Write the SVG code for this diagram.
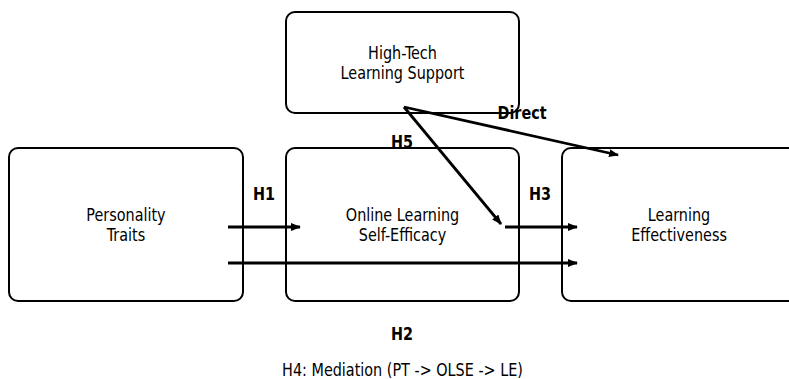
<svg xmlns="http://www.w3.org/2000/svg" width="789" height="379" viewBox="0 0 789 379">
<defs>
<marker id="ah" viewBox="0 0 10 8" refX="9" refY="4" markerWidth="10" markerHeight="8" markerUnits="userSpaceOnUse" orient="auto">
<path d="M0,0 L10,4 L0,8 Z" fill="#000"/>
</marker>
</defs>
<style>
.box{fill:#fff;stroke:#000;stroke-width:2}
.t{font-family:"DejaVu Sans Condensed","DejaVu Sans",sans-serif;font-size:16px;text-anchor:middle;fill:#000}
.b{font-family:"DejaVu Sans Condensed","DejaVu Sans",sans-serif;font-size:16px;font-weight:bold;text-anchor:middle;fill:#000}
.c{fill:none;stroke:#000;stroke-width:2.8;marker-end:url(#ah)}
</style>
<rect width="789" height="379" fill="#fff"/>
<g id="hightech">
<rect class="box" x="286" y="12" width="233" height="101" rx="9"/>
<text class="t" transform="translate(402.5,58.5) scale(1,1.15)">High-Tech</text>
<text class="t" transform="translate(402.5,78.5) scale(1,1.15)">Learning Support</text>
</g>
<g id="personality">
<rect class="box" x="9" y="148" width="234" height="153" rx="9"/>
<text class="t" transform="translate(126,220.5) scale(1,1.15)">Personality</text>
<text class="t" transform="translate(126,240.5) scale(1,1.15)">Traits</text>
</g>
<g id="olse">
<rect class="box" x="286" y="148" width="233" height="153" rx="9"/>
<text class="t" transform="translate(402.5,220.5) scale(1,1.15)">Online Learning</text>
<text class="t" transform="translate(402.5,240.5) scale(1,1.15)">Self-Efficacy</text>
</g>
<g id="le">
<rect class="box" x="562" y="148" width="240" height="153" rx="9"/>
<text class="t" transform="translate(679,220.5) scale(1,1.15)">Learning</text>
<text class="t" transform="translate(679,240.5) scale(1,1.15)">Effectiveness</text>
</g>
<g id="connectors">
<line class="c" x1="228" y1="227" x2="300" y2="227"/>
<line class="c" x1="228" y1="263" x2="577" y2="263"/>
<line class="c" x1="505" y1="227" x2="577" y2="227"/>
<line class="c" x1="404" y1="107" x2="501" y2="224"/>
<line class="c" x1="404" y1="107" x2="618" y2="155"/>
</g>
<g id="labels">
<text class="b" transform="translate(264,199.5) scale(1,1.12)">H1</text>
<text class="b" transform="translate(402,147.5) scale(1,1.12)">H5</text>
<text class="b" transform="translate(522,118.5) scale(1,1.12)">Direct</text>
<text class="b" transform="translate(540,199.5) scale(1,1.12)">H3</text>
<text class="b" transform="translate(402,339.5) scale(1,1.12)">H2</text>
<text class="t" transform="translate(402.5,376) scale(1,1.15)">H4: Mediation (PT -&gt; OLSE -&gt; LE)</text>
</g>
</svg>
